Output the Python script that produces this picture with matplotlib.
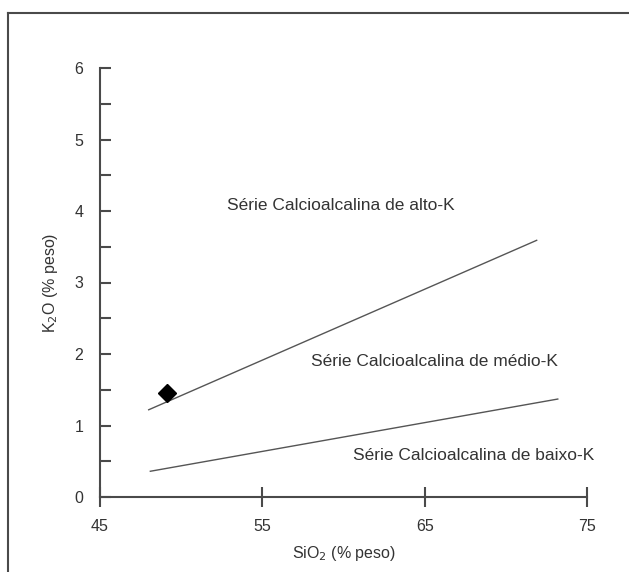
import matplotlib.pyplot as plt
from matplotlib.ticker import MultipleLocator
from matplotlib.lines import Line2D

plt.rcParams['font.family'] = ['Liberation Sans', 'DejaVu Sans']

# limite entre alto-K e médio-K
upper_x = [48.0, 71.9]
upper_y = [1.22, 3.59]
# limite entre médio-K e baixo-K
lower_x = [48.1, 73.2]
lower_y = [0.36, 1.37]
# amostra
sample_x = [49.1]
sample_y = [1.45]

labels = ['Série Calcioalcalina de alto-K',
          'Série Calcioalcalina de médio-K',
          'Série Calcioalcalina de baixo-K']
label_x = [52.8, 58.0, 60.6]
label_y = [4.08, 1.9, 0.58]

xticks = [45, 55, 65, 75]
yticks = [0, 1, 2, 3, 4, 5, 6]

gray = '#4a4a4a'
txt = '#333333'

fig = plt.figure(figsize=(6.29, 5.72), dpi=100)
ax = fig.add_axes([100/629, 1-497/572, 487/629, 429/572])

ax.plot(upper_x, upper_y, color='#555555', lw=1.0)
ax.plot(lower_x, lower_y, color='#555555', lw=1.0)
ax.plot(sample_x, sample_y, 'D', color='black', ms=9, clip_on=False)

for t, x, y in zip(labels, label_x, label_y):
    ax.text(x, y, t, fontsize=12.5, color=txt, va='center', ha='left')

ax.set_xlim(45, 75)
ax.set_ylim(0, 6)
ax.set_xticks(xticks)
ax.set_yticks(yticks)
ax.yaxis.set_minor_locator(MultipleLocator(0.5))

for s in ['top', 'right']:
    ax.spines[s].set_visible(False)
for s in ['left', 'bottom']:
    ax.spines[s].set_color(gray)
    ax.spines[s].set_linewidth(1.5)

ax.tick_params(axis='y', which='both', direction='in', length=8, width=1.5,
               color=gray, labelcolor=txt, labelsize=11.5, pad=12)
ax.tick_params(axis='x', which='both', direction='inout', length=14, width=1.5,
               color=gray, labelcolor=txt, labelsize=11.5, pad=9)

ax.set_xlabel('SiO$_2$ (% peso)', fontsize=11.5, color=txt, labelpad=7)
ax.set_ylabel('K$_2$O (% peso)', fontsize=11.5, color=txt, labelpad=10)

# moldura (apenas topo e esquerda visíveis)
fig.add_artist(Line2D([8/629, 8/629], [0, 1-13/572], transform=fig.transFigure,
                      color=gray, lw=1.5))
fig.add_artist(Line2D([8/629, 1], [1-13/572, 1-13/572], transform=fig.transFigure,
                      color=gray, lw=1.5))

fig.savefig('out.png', dpi=100, facecolor='white')
